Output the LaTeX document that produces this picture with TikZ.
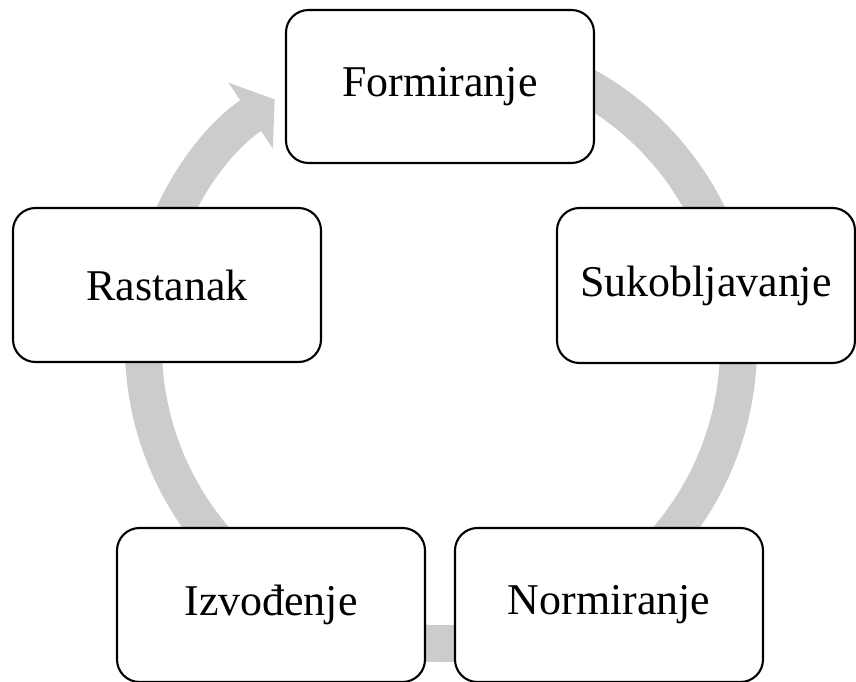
\documentclass[tikz,border=0pt]{standalone}
\usepackage{fontspec}
\setmainfont{Liberation Serif}
\usepackage{tikz}
\usetikzlibrary{arrows.meta}

\begin{document}
\begin{tikzpicture}[
    every node/.style={font=\fontsize{25}{30}\selectfont},
    faza/.style={
        rectangle,
        rounded corners=0.45cm,
        draw=black,
        line width=1.2pt,
        fill=white,
        align=center,
        minimum width=6.16cm,
        minimum height=3.08cm
    },
    krug/.style={
        draw=black!20,
        line width=0.74cm,
        -{Triangle[width=1.56cm, length=0.58cm]}
    }
]
\useasboundingbox (0,0) rectangle (17.12,13.62);

% Kružna strelica (iza čvorova)
\coordinate (centar) at (8.82,6.70);
\draw[krug] ([shift={(80:5.95)}]centar) arc[start angle=80, end angle=-236, radius=5.95];

% Faze
\node[faza, minimum height=3.06cm] (formiranje) at (8.80,11.89) {Formiranje};
\node[faza, minimum width=5.96cm, minimum height=3.10cm] (sukob) at (14.12,7.91) {Sukobljavanje};
\node[faza] (normiranje) at (12.18,1.52) {Normiranje};
\node[faza] (izvodenje) at (5.42,1.52) {Izvođenje};
\node[faza] (rastanak) at (3.34,7.92) {Rastanak};

\end{tikzpicture}
\end{document}
